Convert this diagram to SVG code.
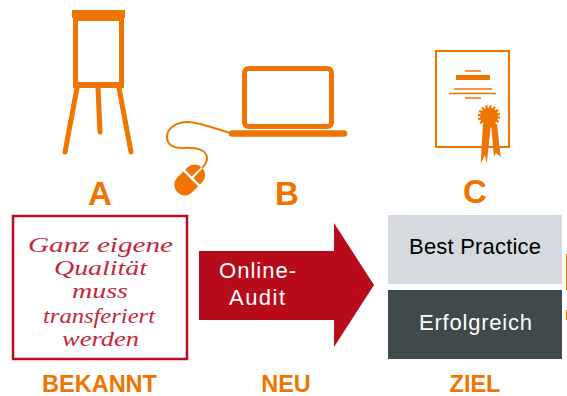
<svg xmlns="http://www.w3.org/2000/svg" width="567" height="396" viewBox="0 0 567 396">
<style>
.o{fill:#f07400}
.ol{fill:none;stroke:#f07400;stroke-linecap:round;stroke-linejoin:round}
.h{font-family:"Liberation Sans",Arial,sans-serif;font-weight:bold;fill:#f07400;text-anchor:middle}
.t{font-family:"Liberation Sans",Arial,sans-serif;font-size:22px}
.s{font-family:"Liberation Serif","Times New Roman",serif;font-style:italic;fill:#c2283c;font-size:20px}
</style>
<rect width="567" height="396" fill="#fff"/>
<g id="easel">
<rect class="o" x="72" y="10" width="53" height="8"/>
<path class="o" fill-rule="evenodd" d="M73 18H124V88H73ZM78 21V82H119V21Z"/>
<path class="ol" stroke-width="5" d="M77 88L65 152M98 88L100 132M119 88L131 152"/>
</g>
<g id="laptop">
<rect x="244.500" y="68.500" width="87" height="58" rx="4" fill="none" stroke="#f07400" stroke-width="5"/>
<path class="ol" stroke-width="6.500" d="M232 133.500H344"/>
<path class="ol" stroke-width="2" d="M230 133C210 127 198 122 188 122C175 122 167 129 167 137C167 145 174 148 182 148C197 147 207 150 207 158C207 162 205 165 202 168"/>
</g>
<g id="mouse">
<g transform="rotate(-45 189 180)">
<rect class="o" x="172" y="170" width="35" height="21" rx="10.500"/>
<rect x="191" y="168" width="2.500" height="25" fill="#fff"/>
<rect x="191" y="179.500" width="16" height="2" fill="#fff"/>
</g>
</g>
<g id="certificate">
<rect x="436" y="51" width="73" height="96" fill="none" stroke="#f07400" stroke-width="2"/>
<path fill="none" stroke="#f07400" stroke-width="1.500" d="M465 71H481M454 89H492M449 93.500H496M465 98H481"/>
<rect class="o" x="456" y="75" width="34" height="5"/>
<circle class="o" cx="489" cy="116.500" r="9"/>
<circle cx="489" cy="116.500" r="9.800" fill="none" stroke="#f07400" stroke-width="3" stroke-dasharray="2.200 1.650"/>
<path class="o" d="M483 124L491 124L486.700 164L485 155L480.700 164Z"/>
<path class="o" d="M491 124L497 124L500.700 157L496 152.700L494 157Z"/>
</g>
<g id="box-bekannt">
<rect x="13" y="216" width="174" height="143" fill="#fff" stroke="#b80b1c" stroke-width="2.500"/>
<text class="s" x="28" y="252" textLength="145" lengthAdjust="spacingAndGlyphs">Ganz eigene</text>
<text class="s" x="54" y="275" textLength="93" lengthAdjust="spacingAndGlyphs">Qualität</text>
<text class="s" x="72" y="298" textLength="56" lengthAdjust="spacingAndGlyphs">muss</text>
<text class="s" x="43" y="323" textLength="112" lengthAdjust="spacingAndGlyphs">transferiert</text>
<text class="s" x="62" y="346" textLength="77" lengthAdjust="spacingAndGlyphs">werden</text>
</g>
<g id="arrow-neu">
<path fill="#b80b1c" d="M199 251H334V223L374 285L334 347V320H199Z"/>
<text class="t" x="219" y="278" fill="#fff" textLength="77">Online-</text>
<text class="t" x="229" y="305" fill="#fff" textLength="56">Audit</text>
</g>
<g id="box-best-practice">
<rect x="388" y="215" width="174" height="69" fill="#d4dae0"/>
<text class="t" x="409" y="254" fill="#000" textLength="132">Best Practice</text>
</g>
<g id="box-erfolgreich">
<rect x="388" y="290" width="174" height="69" fill="#3f4a4d"/>
<text class="t" x="419" y="330" fill="#fff" textLength="113">Erfolgreich</text>
</g>
<g id="labels">
<text class="h" x="100" y="205" font-size="33">A</text>
<text class="h" x="287" y="205" font-size="33">B</text>
<text class="h" x="475" y="203" font-size="33">C</text>
<text class="h" x="99.500" y="392" font-size="23.500">BEKANNT</text>
<text class="h" x="286" y="392" font-size="23.500">NEU</text>
<text class="h" x="475" y="392" font-size="23.500">ZIEL</text>
</g>
<g id="edge-marks">
<rect class="o" x="566" y="254" width="1" height="36"/>
<rect class="o" x="566" y="310" width="1" height="10"/>
</g>
</svg>
